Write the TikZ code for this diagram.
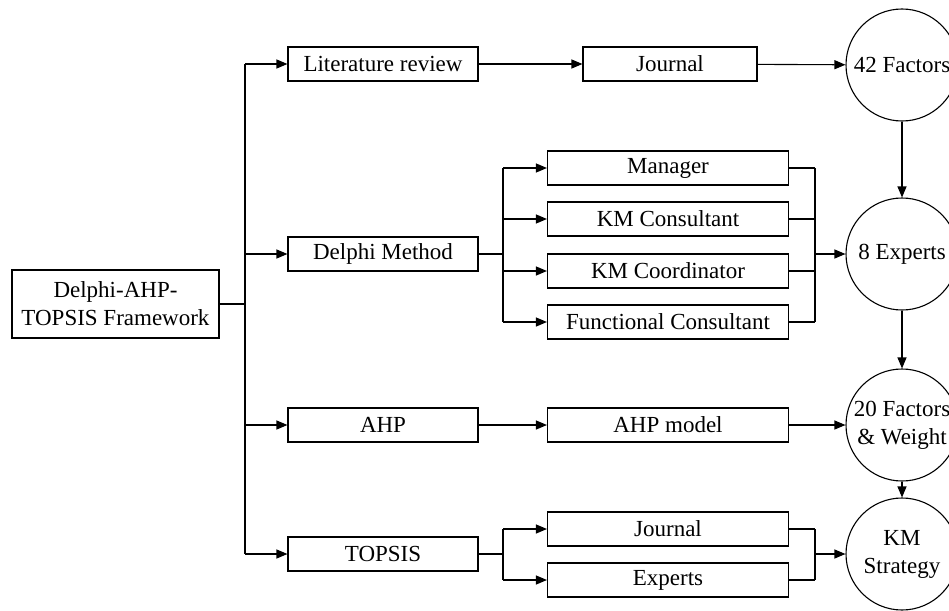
\documentclass[tikz,border=0pt]{standalone}
\usepackage{fontspec}
\setmainfont{Liberation Serif}
\usetikzlibrary{arrows.meta}
\begin{document}
\begin{tikzpicture}[x=1pt,y=-1pt,
  every node/.style={font=\fontsize{23pt}{28pt}\selectfont},
  stepbox/.style={draw, line width=1.1pt, rectangle, inner sep=0pt, minimum height=34pt, align=center},
  wide/.style={stepbox, minimum width=190pt},
  sub/.style={stepbox, minimum width=241pt},
  goal/.style={draw, line width=1.1pt, circle, inner sep=0pt, minimum size=112pt, align=center},
  link/.style={line width=1.1pt},
  arr/.style={link, -{Triangle[length=11pt,width=9pt]}}
]
\useasboundingbox (0,0) rectangle (949,610);
\clip (0,0) rectangle (949,610);

% root
\node[stepbox, minimum width=207pt, minimum height=68pt] (root) at (115.5,304) {Delphi-AHP-\\TOPSIS Framework};

% first level
\node[wide] (lit)    at (383,64)  {Literature review};
\node[wide] (delphi) at (383,254) {Delphi Method};
\node[wide] (ahp)    at (383,425) {AHP};
\node[wide] (topsis) at (383,554) {TOPSIS};

% second level
\node[stepbox, minimum width=174pt] (jour) at (670,64) {Journal};
\node[sub] (man)  at (668,168) {Manager};
\node[sub] (kmc)  at (668,219) {KM Consultant};
\node[sub] (kmco) at (668,271) {KM Coordinator};
\node[sub] (fc)   at (668,322) {Functional Consultant};
\node[sub] (ahpm) at (668,425) {AHP model};
\node[sub] (tj)   at (668,529) {Journal};
\node[sub] (te)   at (668,580) {Experts};

% outcomes
\node[goal] (f42) at (902,65)  {42 Factors};
\node[goal] (e8)  at (902,254) {8 Experts};
\node[goal] (f20) at (902,425) {20 Factors\\\& Weight};
\node[goal] (kms) at (902,554) {KM\\Strategy};

% bus lines
\coordinate (trunk) at (245,0);
\coordinate (fa) at (503,0);
\coordinate (ma) at (815,0);

% root to first level
\draw[link] (root.east) -- (root.east -| trunk);
\draw[link] (lit.west -| trunk) -- (topsis.west -| trunk);
\foreach \n in {lit,delphi,ahp,topsis}
  \draw[arr] (\n.west -| trunk) -- (\n.west);

% literature branch
\draw[arr] (lit) -- (jour);
\draw[arr] (jour) -- (f42);

% delphi branch
\draw[link] (delphi.east) -- (delphi.east -| fa);
\draw[link] (man.west -| fa) -- (fc.west -| fa);
\foreach \n in {man,kmc,kmco,fc} {
  \draw[arr] (\n.west -| fa) -- (\n.west);
  \draw[link] (\n.east) -- (\n.east -| ma);
}
\draw[link] (man.east -| ma) -- (fc.east -| ma);
\draw[arr] (e8.west -| ma) -- (e8.west);

% ahp branch
\draw[arr] (ahp) -- (ahpm);
\draw[arr] (ahpm) -- (f20);

% topsis branch
\draw[link] (topsis.east) -- (topsis.east -| fa);
\draw[link] (tj.west -| fa) -- (te.west -| fa);
\foreach \n in {tj,te} {
  \draw[arr] (\n.west -| fa) -- (\n.west);
  \draw[link] (\n.east) -- (\n.east -| ma);
}
\draw[link] (tj.east -| ma) -- (te.east -| ma);
\draw[arr] (kms.west -| ma) -- (kms.west);

% outcome chain
\draw[arr] (f42) -- (e8);
\draw[arr] (e8) -- (f20);
\draw[arr] (f20) -- (kms);
\end{tikzpicture}
\end{document}
